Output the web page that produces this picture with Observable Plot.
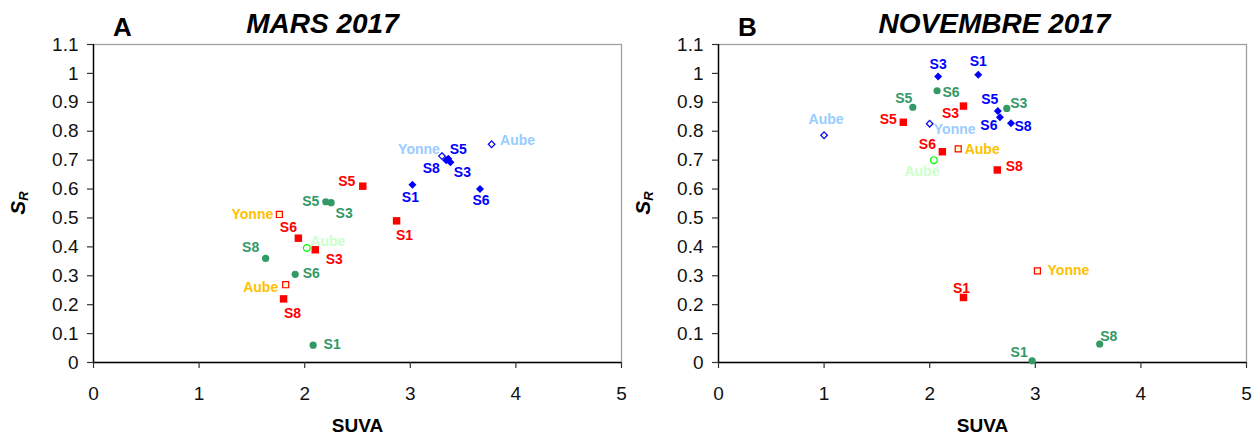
<!DOCTYPE html>
<html><head><meta charset="utf-8">
<script src="https://cdn.jsdelivr.net/npm/d3@7"></script>
<script src="https://cdn.jsdelivr.net/npm/@observablehq/plot@0.6"></script>
<style>
body{margin:0;background:#fff;}
#wrap{display:flex;width:1256px;height:437px;overflow:hidden;}
#wrap svg{font-family:"Liberation Sans",Arial,sans-serif;overflow:visible;}
</style></head><body><div id="wrap"></div>
<script>
// ---------- data ----------
const sites = ["S1","S3","S5","S6","S8"];
const rivers = ["Yonne","Aube"];
const xTicks = [0,1,2,3,4,5];
const yTicks = [0,0.1,0.2,0.3,0.4,0.5,0.6,0.7,0.8,0.9,1.0,1.1];

// MARS 2017
const marsRedSUVA   = [2.87, 2.10, 2.55, 1.94, 1.80];
const marsRedSR     = [0.49, 0.39, 0.61, 0.43, 0.22];
const marsGreenSUVA = [2.08, 2.25, 2.20, 1.91, 1.63];
const marsGreenSR   = [0.06, 0.553, 0.556, 0.305, 0.36];
const marsBlueSUVA  = [3.02, 3.38, 3.36, 3.66, 3.34];
const marsBlueSR    = [0.615, 0.693, 0.705, 0.60, 0.70];
const marsOpenRedSUVA  = [1.76, 1.82];
const marsOpenRedSR    = [0.512, 0.269];
const marsOpenBlueSUVA = [3.30, 3.77];
const marsOpenBlueSR   = [0.714, 0.755];
const marsOpenGreenSUVA = [2.02];
const marsOpenGreenSR   = [0.396];

// NOVEMBRE 2017
const novRedSUVA   = [2.32, 2.32, 1.75, 2.12, 2.64];
const novRedSR     = [0.225, 0.887, 0.831, 0.729, 0.666];
const novGreenSUVA = [2.97, 2.73, 1.84, 2.07, 3.61];
const novGreenSR   = [0.006, 0.879, 0.883, 0.940, 0.064];
const novBlueSUVA  = [2.46, 2.08, 2.645, 2.665, 2.77];
const novBlueSR    = [0.995, 0.989, 0.870, 0.848, 0.828];
const novOpenRedSUVA  = [3.02, 2.27];
const novOpenRedSR    = [0.317, 0.739];
const novOpenBlueSUVA = [2.00, 1.00];
const novOpenBlueSR   = [0.826, 0.786];
const novOpenGreenSUVA = [2.04];
const novOpenGreenSR   = [0.700];

// ---------- label placement (px offsets) ----------
const marsLabelOffsets = {
  red:   [[8,15],[19,10],[-16,-5],[-10,-11],[9,15]],
  green: [[19,-1],[13,11],[-15,0],[16,-1],[-15,-11]],
  blue:  [[-2,13],[12,10],[10,-9],[1,11],[-15,8]],
  openRed: [[-27,0],[-25,3]],
  openBlue: [[-23,-7],[26,-4]],
  openGreen: [[21,-7]]
};
const novLabelOffsets = {
  red:   [[-2,-9],[-13,7],[-15,-3],[-15,-7],[17,-3]],
  green: [[-13,-8],[12,-5],[-9,-9],[14,2],[9,-7]],
  blue:  [[0,-13],[0,-12],[-8,-11],[-11,8],[12,3]],
  openRed: [[31,0],[24,1]],
  openBlue: [[25,6],[2,-16]],
  openGreen: [[-12,11]]
};

// ---------- styles ----------
const seriesStyle = {
  red:       {symbol:"square",   fill:"#FF0000", stroke:"none",    r:4.2, color:"#FF0000"},
  green:     {symbol:"circle",   fill:"#339966", stroke:"none",    r:3.6, color:"#339966"},
  blue:      {symbol:"diamond2", fill:"#0000FF", stroke:"none",    r:3.6, color:"#0000FF"},
  openRed:   {symbol:"square",   fill:"#FFFFCC", stroke:"#FF0000", r:3.4, color:"#FFC000"},
  openBlue:  {symbol:"diamond2", fill:"#FFFFCC", stroke:"#0000FF", r:3.0, color:"#99CCFF"},
  openGreen: {symbol:"circle",   fill:"#FFFFFF", stroke:"#00FF00", r:3.4, color:"#CCFFCC"}
};
const tickFont = 19;

function rowsFor(xs, ys, labels, offsets) {
  return xs.map((x,i) => ({SUVA:x, SR:ys[i], label:labels[i], dx:offsets[i][0], dy:offsets[i][1]}));
}

function buildPanel(cfg) {
  const marks = [
    Plot.frame({stroke:"#A0A0A0", strokeWidth:1.3}),
    Plot.ruleX([0], {stroke:"#000", strokeWidth:1.4}),
    Plot.ruleY([0], {stroke:"#000", strokeWidth:1.4}),
    Plot.tickX(xTicks, {x:d=>d, frameAnchor:"bottom", y:null, stroke:"#333", strokeWidth:1.2, insetTop:318, insetBottom:-6}),
    Plot.tickY(yTicks, {y:d=>d, x:null, stroke:"#333", strokeWidth:1.2, insetLeft:-6, insetRight:528}),
    Plot.text(xTicks, {x:d=>d, text:d=>String(d), frameAnchor:"bottom", lineAnchor:"middle", dy:31, fontSize:tickFont, fill:"#111"}),
    Plot.text(yTicks, {y:d=>d, text:d=>String(+d.toFixed(1)), frameAnchor:"left", textAnchor:"end", lineAnchor:"middle", dx:-15, fontSize:tickFont, fill:"#111"}),
    Plot.text([cfg.letter], {frameAnchor:"top-left", textAnchor:"middle", lineAnchor:"bottom", dx:cfg.letterDx, dy:-9, fontSize:26, fontWeight:"bold", fill:"#000"}),
    Plot.text([cfg.title], {frameAnchor:"top", textAnchor:"middle", lineAnchor:"bottom", dx:cfg.titleDx, dy:-12, fontSize:28, fontWeight:"bold", fontStyle:"italic", fill:"#000"}),
    Plot.text(["SUVA"], {frameAnchor:"bottom", textAnchor:"middle", lineAnchor:"middle", dy:63, fontSize:19, fontWeight:"bold", fill:"#000"})
  ];
  for (const [key, rows] of cfg.series) {
    const st = seriesStyle[key];
    marks.push(Plot.dot(rows, {x:"SUVA", y:"SR", symbol:()=>st.symbol, fill:st.fill, stroke:st.stroke, strokeWidth:1.2, r:st.r}));
  }
  for (const [key, rows] of cfg.series) {
    const st = seriesStyle[key];
    for (const d of rows) {
      marks.push(Plot.text([d], {x:"SUVA", y:"SR", text:"label", dx:d.dx, dy:d.dy, fill:st.color, fontSize:14, fontWeight:"bold", textAnchor:"middle", lineAnchor:"middle"}));
    }
  }
  const svg = Plot.plot({
    width:628, height:437,
    marginLeft:cfg.marginLeft, marginRight:cfg.marginRight, marginTop:44, marginBottom:75,
    x:{domain:[0,5], axis:null}, y:{domain:[0,1.1], axis:null},
    symbol:{type:"identity"},
    style:{fontFamily:"'Liberation Sans', Arial, sans-serif", background:"white", overflow:"visible"},
    marks
  });
  // y-axis title S_R
  const t = d3.select(svg).append("text")
    .attr("transform", `translate(${cfg.marginLeft-68},203) rotate(-90)`)
    .attr("text-anchor","middle")
    .attr("font-size",21).attr("font-weight","bold").attr("font-style","italic")
    .attr("font-family","'Liberation Sans', Arial, sans-serif").attr("fill","#000");
  t.append("tspan").text("S");
  t.append("tspan").attr("font-size",13).attr("dy",3).text("R");
  return svg;
}

const panelA = buildPanel({
  letter:"A", title:"MARS 2017", marginLeft:93, marginRight:7, letterDx:29, titleDx:-35,
  series:[
    ["red", rowsFor(marsRedSUVA, marsRedSR, sites, marsLabelOffsets.red)],
    ["green", rowsFor(marsGreenSUVA, marsGreenSR, sites, marsLabelOffsets.green)],
    ["blue", rowsFor(marsBlueSUVA, marsBlueSR, sites, marsLabelOffsets.blue)],
    ["openRed", rowsFor(marsOpenRedSUVA, marsOpenRedSR, rivers, marsLabelOffsets.openRed)],
    ["openBlue", rowsFor(marsOpenBlueSUVA, marsOpenBlueSR, rivers, marsLabelOffsets.openBlue)],
    ["openGreen", rowsFor(marsOpenGreenSUVA, marsOpenGreenSR, ["Aube"], marsLabelOffsets.openGreen)]
  ]
});
const panelB = buildPanel({
  letter:"B", title:"NOVEMBRE 2017", marginLeft:90, marginRight:10, letterDx:29, titleDx:12,
  series:[
    ["red", rowsFor(novRedSUVA, novRedSR, sites, novLabelOffsets.red)],
    ["green", rowsFor(novGreenSUVA, novGreenSR, sites, novLabelOffsets.green)],
    ["blue", rowsFor(novBlueSUVA, novBlueSR, sites, novLabelOffsets.blue)],
    ["openRed", rowsFor(novOpenRedSUVA, novOpenRedSR, rivers, novLabelOffsets.openRed)],
    ["openBlue", rowsFor(novOpenBlueSUVA, novOpenBlueSR, rivers, novLabelOffsets.openBlue)],
    ["openGreen", rowsFor(novOpenGreenSUVA, novOpenGreenSR, ["Aube"], novLabelOffsets.openGreen)]
  ]
});
const wrap = document.getElementById("wrap");
wrap.appendChild(panelA);
wrap.appendChild(panelB);
</script></body></html>
